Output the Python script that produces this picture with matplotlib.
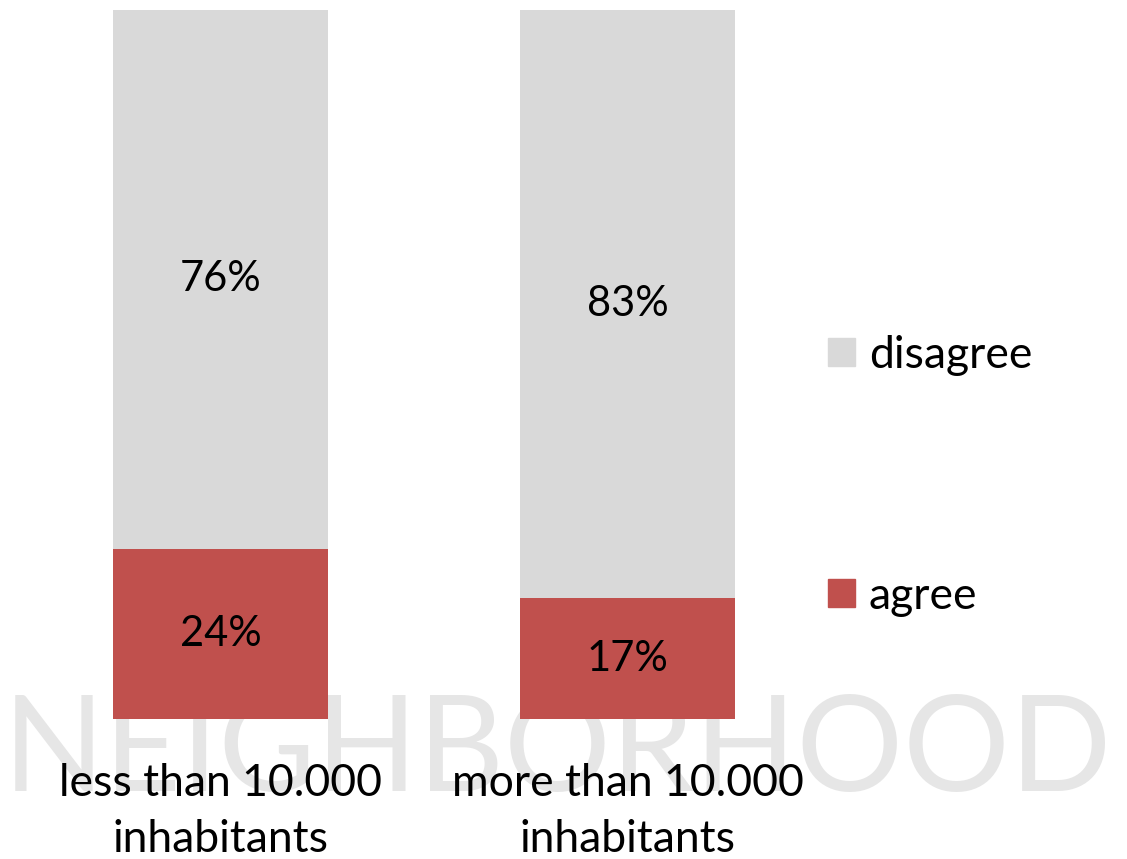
import numpy as np
import matplotlib.pyplot as plt
from matplotlib.patches import Patch

# data
categories = ["less than 10.000\ninhabitants", "more than 10.000\ninhabitants"]
agree = [24, 17]
disagree = [76, 83]
series_names = ["disagree", "agree"]

RED = "#C0504D"
GREY = "#D9D9D9"
WATERMARK = "#E6E6E6"

plt.rcParams['font.family'] = ['Lato', 'DejaVu Sans']

fig = plt.figure(figsize=(11.27, 8.59), dpi=100)
W, H = 1127, 859
ax = fig.add_axes([17 / W, (H - 719) / H, 814 / W, 709 / H])
ax.set_facecolor('none')

x = np.arange(len(categories))
width = 0.528
b1 = ax.bar(x, agree, width, color=RED, zorder=2)
b2 = ax.bar(x, disagree, width, bottom=agree, color=GREY, zorder=2)

ax.bar_label(b1, labels=[f"{v}%" for v in agree], label_type='center', fontsize=30)
ax.bar_label(b2, labels=[f"{v}%" for v in disagree], label_type='center', fontsize=30)

ax.set_xlim(-0.5, 1.5)
ax.set_ylim(0, 100)
ax.set_xticks(x)
ax.set_xticklabels(categories, fontsize=32, linespacing=1.45)
ax.tick_params(axis='x', length=0, pad=32)
ax.set_yticks([])
for s in ax.spines.values():
    s.set_visible(False)

# big watermark behind the bars
ax.text(557 / W, (H - 753) / H, "NEIGHBORHOOD", transform=fig.transFigure,
        ha='center', va='center', fontsize=96, fontweight='normal',
        color=WATERMARK, zorder=0.5, clip_on=False)

handles = [Patch(color=GREY), Patch(color=RED)]
ax.legend(handles, series_names, loc='center left', bbox_to_anchor=(828 / W, (H - 476) / H),
          bbox_transform=fig.transFigure, frameon=False, fontsize=32,
          borderpad=0, borderaxespad=0,
          handlelength=0.6, handleheight=0.6, handletextpad=0.32, labelspacing=4.5)

fig.savefig("out.png", dpi=100)
